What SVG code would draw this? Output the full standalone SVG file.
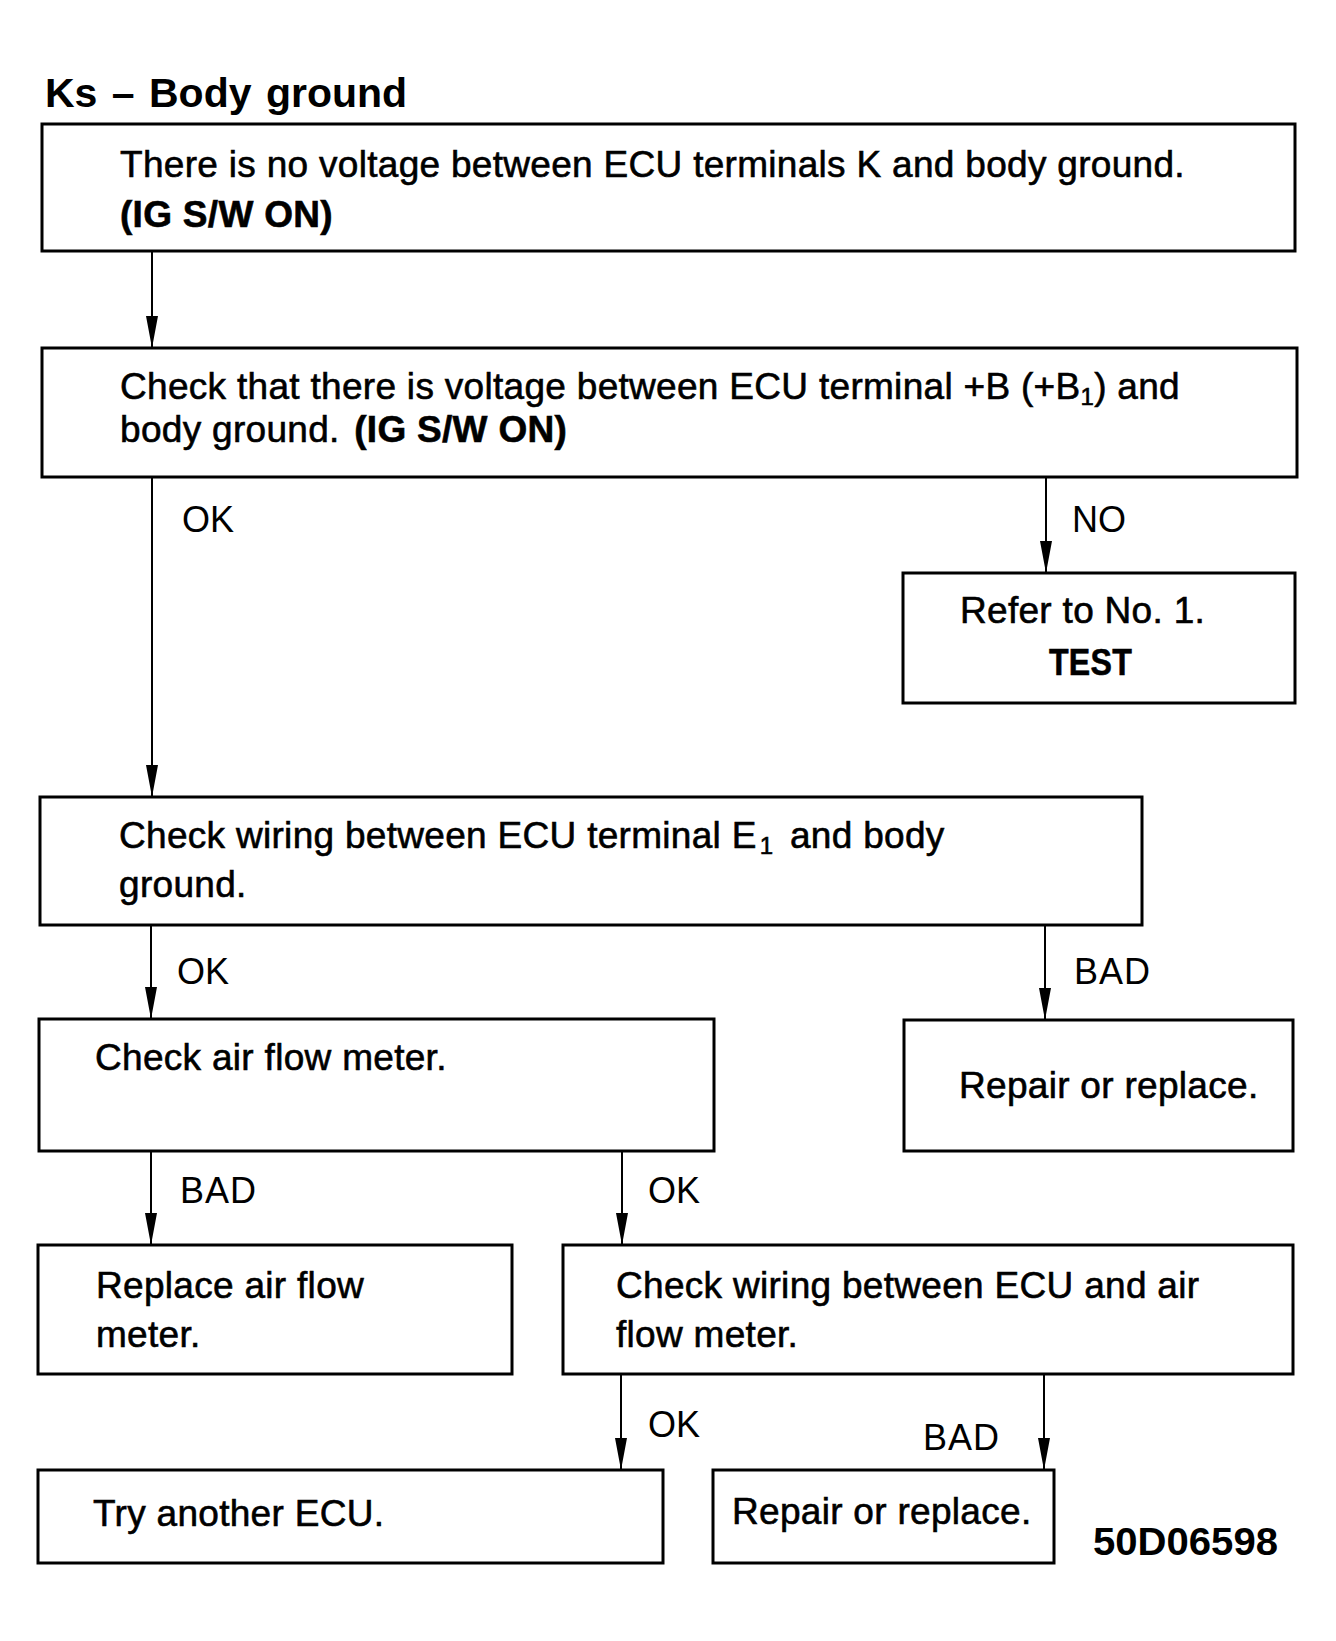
<svg xmlns="http://www.w3.org/2000/svg" width="1336" height="1641" viewBox="0 0 1336 1641">
<style>
.box{fill:#fff;stroke:#000;stroke-width:3}
.t{font-family:"Liberation Sans",Arial,sans-serif;font-size:37px;fill:#000;stroke:#000;stroke-width:0.6;letter-spacing:0.3px}
.b{font-weight:bold}
.lbl{font-family:"Liberation Sans",Arial,sans-serif;font-size:36px;fill:#000}
.con{stroke:#000;stroke-width:2;fill:none;marker-end:url(#ah)}
.sub{font-size:24px}
</style>
<defs>
<marker id="ah" viewBox="0 0 32 12" refX="32" refY="6" markerWidth="32" markerHeight="12" markerUnits="userSpaceOnUse" orient="auto">
<path d="M0,0 L32,6 L0,12 z" fill="#000"/>
</marker>
</defs>
<rect width="1336" height="1641" fill="#fff"/>
<text x="45" y="107" font-family="Liberation Sans,Arial,sans-serif" font-size="41" font-weight="bold" word-spacing="3">Ks – Body ground</text>

<g id="connectors">
<line class="con" x1="152" y1="251" x2="152" y2="348"/>
<line class="con" x1="152" y1="477" x2="152" y2="797"/>
<line class="con" x1="1046" y1="477" x2="1046" y2="573"/>
<line class="con" x1="151" y1="925" x2="151" y2="1019"/>
<line class="con" x1="1045" y1="925" x2="1045" y2="1020"/>
<line class="con" x1="151" y1="1151" x2="151" y2="1245"/>
<line class="con" x1="622" y1="1151" x2="622" y2="1245"/>
<line class="con" x1="621" y1="1374" x2="621" y2="1470"/>
<line class="con" x1="1044" y1="1374" x2="1044" y2="1470"/>
<text class="lbl" x="182" y="532">OK</text>
<text class="lbl" x="1072" y="532">NO</text>
<text class="lbl" x="177" y="984">OK</text>
<text class="lbl" x="1074" y="984" letter-spacing="1">BAD</text>
<text class="lbl" x="180" y="1203" letter-spacing="1">BAD</text>
<text class="lbl" x="648" y="1203">OK</text>
<text class="lbl" x="648" y="1437">OK</text>
<text class="lbl" x="923" y="1450" letter-spacing="1">BAD</text>
</g>

<g id="n1">
<rect class="box" x="42" y="124" width="1253" height="127"/>
<text class="t" x="120" y="177">There is no voltage between ECU terminals K and body ground.</text>
<text class="t b" x="120" y="227">(IG S/W ON)</text>
</g>
<g id="n2">
<rect class="box" x="42" y="348" width="1255" height="129"/>
<text class="t" x="120" y="399">Check that there is voltage between ECU terminal +B (+B<tspan class="sub" dy="6">1</tspan><tspan dy="-6">) and</tspan></text>
<text class="t" x="120" y="442">body ground. <tspan class="b" dx="4">(IG S/W ON)</tspan></text>
</g>
<g id="n3">
<rect class="box" x="903" y="573" width="392" height="130"/>
<text class="t" x="960" y="623">Refer to No. 1.</text>
<text class="t b" x="1049" y="675" textLength="83" lengthAdjust="spacingAndGlyphs">TEST</text>
</g>
<g id="n4">
<rect class="box" x="40" y="797" width="1102" height="128"/>
<text class="t" x="119" y="848">Check wiring between ECU terminal E<tspan class="sub" dx="3" dy="6">1</tspan><tspan dx="6" dy="-6"> and body</tspan></text>
<text class="t" x="119" y="897">ground.</text>
</g>
<g id="n5">
<rect class="box" x="39" y="1019" width="675" height="132"/>
<text class="t" x="95" y="1070">Check air flow meter.</text>
</g>
<g id="n6">
<rect class="box" x="904" y="1020" width="389" height="131"/>
<text class="t" x="959" y="1098">Repair or replace.</text>
</g>
<g id="n7">
<rect class="box" x="38" y="1245" width="474" height="129"/>
<text class="t" x="96" y="1298">Replace air flow</text>
<text class="t" x="96" y="1347">meter.</text>
</g>
<g id="n8">
<rect class="box" x="563" y="1245" width="730" height="129"/>
<text class="t" x="616" y="1298">Check wiring between ECU and air</text>
<text class="t" x="616" y="1347">flow meter.</text>
</g>
<g id="n9">
<rect class="box" x="38" y="1470" width="625" height="93"/>
<text class="t" x="93" y="1526">Try another ECU.</text>
</g>
<g id="n10">
<rect class="box" x="713" y="1470" width="341" height="93"/>
<text class="t" x="732" y="1524">Repair or replace.</text>
</g>
<text x="1093" y="1555" font-family="Liberation Sans,Arial,sans-serif" font-size="38" font-weight="bold" textLength="185" lengthAdjust="spacingAndGlyphs">50D06598</text>
</svg>
